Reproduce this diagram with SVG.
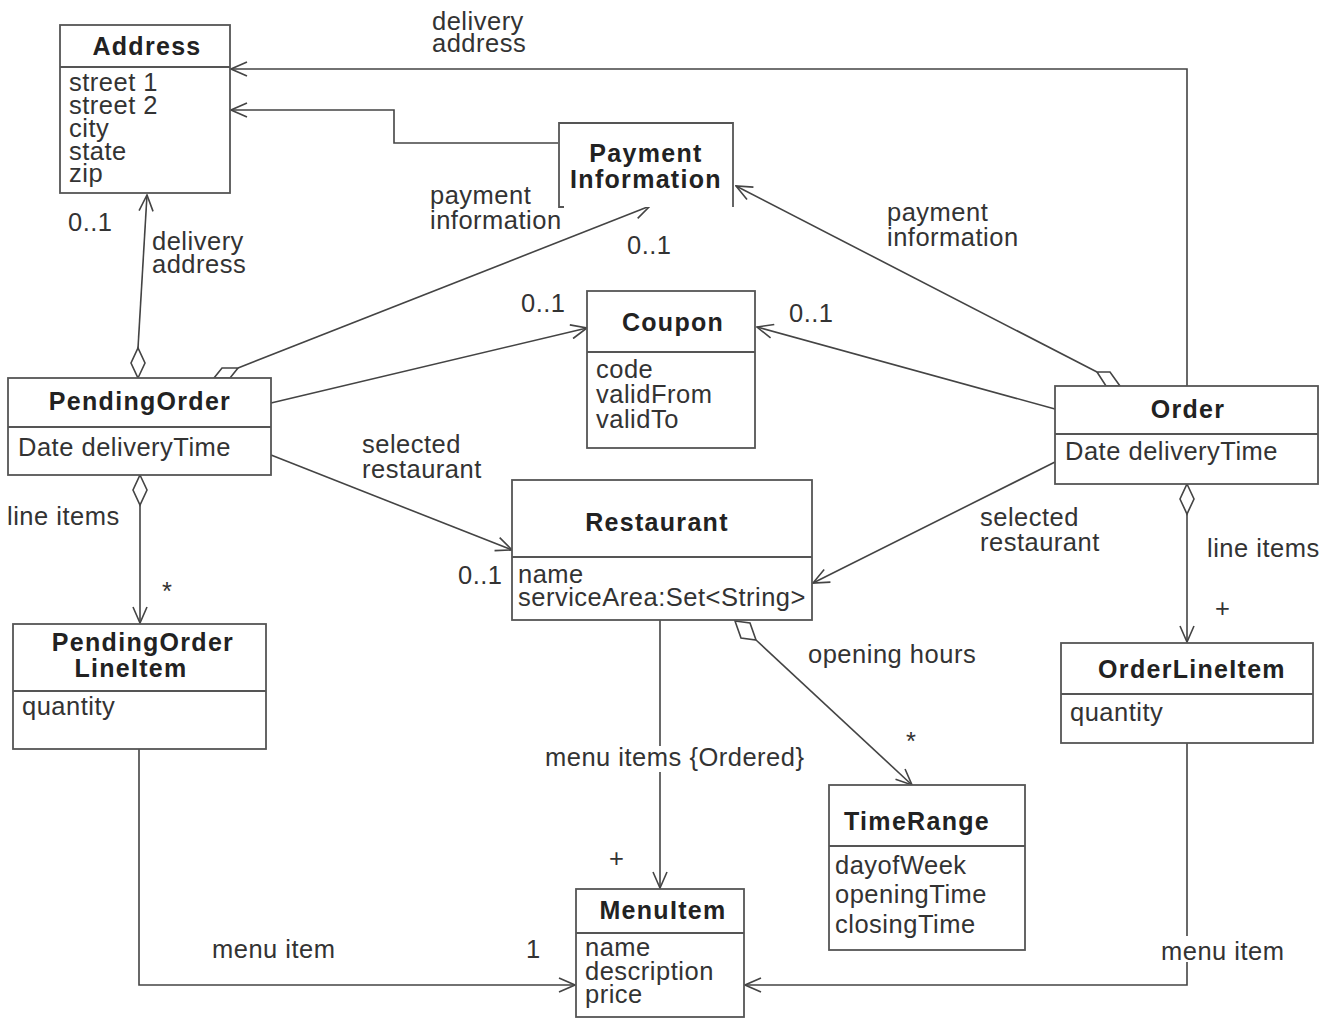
<svg xmlns="http://www.w3.org/2000/svg" width="1328" height="1032" viewBox="0 0 1328 1032">
<defs>
<style>
.box{fill:#fff;stroke:#555;stroke-width:1.8}
.div{stroke:#555;stroke-width:2}
.t{font-family:"Liberation Sans",Arial,sans-serif;font-weight:bold;font-size:25px;letter-spacing:1.3px;fill:#222;text-anchor:middle}
.a{font-family:"Liberation Sans",Arial,sans-serif;font-size:25.5px;letter-spacing:0.5px;fill:#333}
.l{font-family:"Liberation Sans",Arial,sans-serif;font-size:25.5px;letter-spacing:0.5px;fill:#333}
.c{fill:none;stroke:#444;stroke-width:1.6}
.dm{fill:#fff;stroke:#444;stroke-width:1.6}
</style>
<marker id="arr" viewBox="0 0 18 16" refX="17" refY="8" markerWidth="18" markerHeight="16" markerUnits="userSpaceOnUse" orient="auto">
<path d="M1,1 L17,8 L1,15" fill="none" stroke="#444" stroke-width="1.6"/>
</marker>
</defs>
<rect width="1328" height="1032" fill="#fff"/>

<g id="connectors">
<path class="c" d="M1187,386 L1187,69 L231,69" marker-end="url(#arr)"/>
<path class="c" d="M558,143 L394,143 L394,110 L231,110" marker-end="url(#arr)"/>
<path class="c" d="M138,348 L147,195" marker-end="url(#arr)"/>
<path class="dm" d="M138,378 L145,363 L138,348 L131,363 Z"/>
<path class="c" d="M238,368 L650,206" marker-end="url(#arr)"/>
<path class="dm" d="M214,378 L230,378 L238,368 L222,368 Z"/>
<path class="c" d="M271,403 L587,328" marker-end="url(#arr)"/>
<path class="c" d="M1055,409 L757,327" marker-end="url(#arr)"/>
<path class="c" d="M1097,372 L736,186" marker-end="url(#arr)"/>
<path class="dm" d="M1120,386 L1106,386 L1097,372 L1110,372 Z"/>
<path class="c" d="M271,455 L512,550" marker-end="url(#arr)"/>
<path class="c" d="M1055,462 L813,583" marker-end="url(#arr)"/>
<path class="c" d="M140,505 L140,623" marker-end="url(#arr)"/>
<path class="dm" d="M140,475 L147,490 L140,505 L133,490 Z"/>
<path class="c" d="M1187,514 L1187,642" marker-end="url(#arr)"/>
<path class="dm" d="M1187,484 L1194,499 L1187,514 L1180,499 Z"/>
<path class="c" d="M660,620 L660,888" marker-end="url(#arr)"/>
<path class="c" d="M756,640 L912,785" marker-end="url(#arr)"/>
<path class="dm" d="M735,621 L750,623 L756,640 L741,638 Z"/>
<path class="c" d="M139,749 L139,985 L575,985" marker-end="url(#arr)"/>
<path class="c" d="M1187,743 L1187,985 L745,985" marker-end="url(#arr)"/>
<rect x="543" y="746" width="268" height="26" fill="#fff"/>
<rect x="1160" y="936" width="128" height="26" fill="#fff"/>
<g class="l">
<text x="432" y="30">delivery</text>
<text x="432" y="52">address</text>
<text x="68" y="231">0..1</text>
<text x="152" y="250">delivery</text>
<text x="152" y="273">address</text>
<text x="430" y="204">payment</text>
<text x="430" y="229">information</text>
<text x="627" y="254">0..1</text>
<text x="887" y="221">payment</text>
<text x="887" y="246">information</text>
<text x="521" y="312">0..1</text>
<text x="789" y="322">0..1</text>
<text x="362" y="453">selected</text>
<text x="362" y="478">restaurant</text>
<text x="458" y="584">0..1</text>
<text x="980" y="526">selected</text>
<text x="980" y="551">restaurant</text>
<text x="7" y="525">line items</text>
<text x="162" y="600">*</text>
<text x="1207" y="557">line items</text>
<text x="1215" y="617">+</text>
<text x="808" y="663">opening hours</text>
<text x="906" y="750">*</text>
<text x="545" y="766">menu items {Ordered}</text>
<text x="609" y="867">+</text>
<text x="212" y="958">menu item</text>
<text x="526" y="958">1</text>
<text x="1161" y="960">menu item</text>
</g>
</g>

<g id="Address">
<rect class="box" x="60" y="25" width="170" height="168"/>
<line class="div" x1="60" y1="67" x2="230" y2="67"/>
<text class="t" x="147" y="55">Address</text>
<text class="a" x="69" y="91">street 1</text>
<text class="a" x="69" y="114">street 2</text>
<text class="a" x="69" y="137">city</text>
<text class="a" x="69" y="160">state</text>
<text class="a" x="69" y="182">zip</text>
</g>

<g id="PaymentInformation">
<rect x="559" y="123" width="174" height="84" fill="#fff"/>
<path d="M564,207 L559,207 L559,123 L733,123 L733,207" fill="none" stroke="#555" stroke-width="1.8"/>
<text class="t" x="646" y="162">Payment</text>
<text class="t" x="646" y="188">Information</text>
</g>

<g id="Coupon">
<rect class="box" x="587" y="291" width="168" height="157"/>
<line class="div" x1="587" y1="352" x2="755" y2="352"/>
<text class="t" x="673" y="331">Coupon</text>
<text class="a" x="596" y="378">code</text>
<text class="a" x="596" y="403">validFrom</text>
<text class="a" x="596" y="428">validTo</text>
</g>

<g id="PendingOrder">
<rect class="box" x="8" y="378" width="263" height="97"/>
<line class="div" x1="8" y1="427" x2="271" y2="427"/>
<text class="t" x="140" y="410">PendingOrder</text>
<text class="a" x="18" y="456">Date deliveryTime</text>
</g>

<g id="Order">
<rect class="box" x="1055" y="386" width="263" height="98"/>
<line class="div" x1="1055" y1="434" x2="1318" y2="434"/>
<text class="t" x="1188" y="418">Order</text>
<text class="a" x="1065" y="460">Date deliveryTime</text>
</g>

<g id="Restaurant">
<rect class="box" x="512" y="480" width="300" height="140"/>
<line class="div" x1="512" y1="557" x2="812" y2="557"/>
<text class="t" x="657" y="531">Restaurant</text>
<text class="a" x="518" y="583">name</text>
<text class="a" x="518" y="606">serviceArea:Set&lt;String&gt;</text>
</g>

<g id="PendingOrderLineItem">
<rect class="box" x="13" y="624" width="253" height="125"/>
<line class="div" x1="13" y1="691" x2="266" y2="691"/>
<text class="t" x="143" y="651">PendingOrder</text>
<text class="t" x="131" y="677">LineItem</text>
<text class="a" x="22" y="715">quantity</text>
</g>

<g id="OrderLineItem">
<rect class="box" x="1061" y="643" width="252" height="100"/>
<line class="div" x1="1061" y1="694" x2="1313" y2="694"/>
<text class="t" x="1192" y="678">OrderLineItem</text>
<text class="a" x="1070" y="721">quantity</text>
</g>

<g id="TimeRange">
<rect class="box" x="829" y="785" width="196" height="165"/>
<line class="div" x1="829" y1="846" x2="1025" y2="846"/>
<text class="t" x="917" y="830">TimeRange</text>
<text class="a" x="835" y="874">dayofWeek</text>
<text class="a" x="835" y="903">openingTime</text>
<text class="a" x="835" y="933">closingTime</text>
</g>

<g id="MenuItem">
<rect class="box" x="576" y="889" width="168" height="128"/>
<line class="div" x1="576" y1="933" x2="744" y2="933"/>
<text class="t" x="663" y="919">MenuItem</text>
<text class="a" x="585" y="956">name</text>
<text class="a" x="585" y="980">description</text>
<text class="a" x="585" y="1003">price</text>
</g>
</svg>
